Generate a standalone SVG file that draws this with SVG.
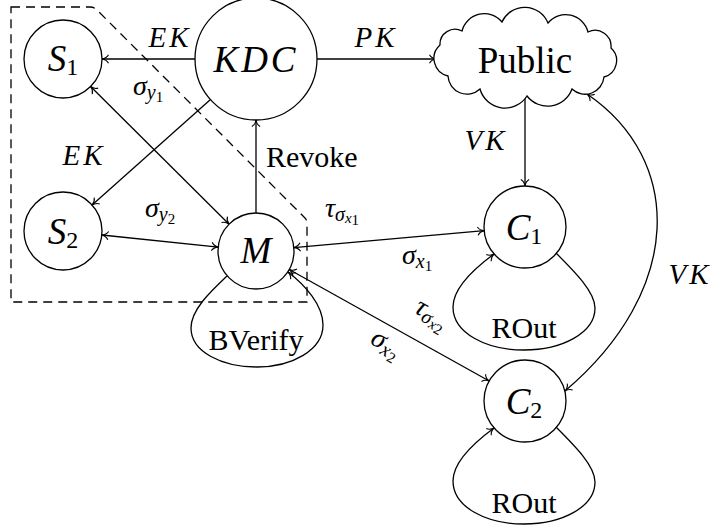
<svg xmlns="http://www.w3.org/2000/svg" width="718" height="529" viewBox="0 0 718 529" font-family="Liberation Serif, Times New Roman, serif">
<defs>
<marker id="a" viewBox="-8 -5 9 10" refX="0" refY="0" markerWidth="9" markerHeight="10" markerUnits="userSpaceOnUse" orient="auto-start-reverse">
<path d="M-6.5,-4.2 C-5,-1.5 -2,-0.3 0,0 C-2,0.3 -5,1.5 -6.5,4.2" fill="none" stroke="#000" stroke-width="1.1"/>
</marker>
</defs>
<rect width="718" height="529" fill="#fff"/>

<g id="boundary">
<path fill="none" stroke="#000" stroke-width="1.3" stroke-dasharray="9 6" d="M11,7 L90,7 Q94,7 97,10 L305,218 Q307,220 307,224 L307,302 L11,302 Z"/>
</g>

<g id="connectors">
<g fill="none" stroke="#000" stroke-width="1.3">
<path d="M195,59 L102,59" marker-end="url(#a)"/>
<path d="M317,59 L436,59" marker-end="url(#a)"/>
<path d="M210.5,99.6 L92.1,205.1" marker-end="url(#a)"/>
<path d="M90.6,86.5 L229.1,224.2" marker-start="url(#a)" marker-end="url(#a)"/>
<path d="M256,213 L256,120" marker-end="url(#a)"/>
<path d="M101.8,235 L218.2,247.1" marker-start="url(#a)" marker-end="url(#a)"/>
<path d="M293.8,247.6 L484.2,230.6" marker-start="url(#a)" marker-end="url(#a)"/>
<path d="M289.2,269.5 L489.2,381" marker-start="url(#a)" marker-end="url(#a)"/>
<path d="M525,96 L525,186" marker-end="url(#a)"/>
<path d="M587,94 C684,160 684,290 565,391" marker-start="url(#a)" marker-end="url(#a)"/>
<path d="M227,276 C210,292 191,310 191,328 C191,352 222,367 257,367 C292,367 323,350 323,325 C323,305 305,285 288,272" marker-end="url(#a)"/>
<path d="M556,253 C575,272 595,292 595,308 C595,333 562,350 524,350 C486,350 453,333 453,307 C453,287 475,268 494,254" marker-end="url(#a)"/>
<path d="M556,427 C575,446 595,466 595,482 C595,507 562,524 524,524 C486,524 453,507 453,481 C453,461 475,442 494,428" marker-end="url(#a)"/>
</g>
<g fill="#000" font-family="Liberation Serif, Times New Roman, serif">
<g font-size="29" font-style="italic" text-anchor="middle" letter-spacing="3">
<text x="170" y="47">EK</text>
<text x="376" y="47">PK</text>
<text x="84" y="165">EK</text>
<text x="486" y="150">VK</text>
<text x="690" y="284">VK</text>
</g>
<g font-size="30">
<text x="266" y="167">Revoke</text>
<text x="256" y="350" text-anchor="middle">BVerify</text>
<text x="524" y="338" text-anchor="middle">ROut</text>
<text x="524" y="513" text-anchor="middle">ROut</text>
</g>
<g font-size="28" font-style="italic">
<text x="133" y="95">&#963;<tspan font-size="20" dy="4">y</tspan><tspan font-size="15" font-style="normal" dy="3">1</tspan></text>
<text x="145" y="217">&#963;<tspan font-size="20" dy="4">y</tspan><tspan font-size="15" font-style="normal" dy="3">2</tspan></text>
<text x="325" y="217">&#964;<tspan font-size="20" dy="4">&#963;</tspan><tspan font-size="15" dy="2">x</tspan><tspan font-size="15" font-style="normal" dy="2">1</tspan></text>
<text x="402" y="264">&#963;<tspan font-size="20" dy="4">x</tspan><tspan font-size="15" font-style="normal" dy="3">1</tspan></text>
<text transform="translate(413,312) rotate(29.1)">&#964;<tspan font-size="20" dy="4">&#963;</tspan><tspan font-size="15" dy="2">x</tspan><tspan font-size="15" font-style="normal" dy="2">2</tspan></text>
<text transform="translate(369,343) rotate(29.1)">&#963;<tspan font-size="20" dy="4">x</tspan><tspan font-size="15" font-style="normal" dy="3">2</tspan></text>
</g>
</g>
</g>

<g fill="#fff" stroke="#000" stroke-width="1.3">
<g id="S1">
<circle cx="63" cy="59" r="39"/>
<text x="63" y="71" fill="#000" stroke="none" font-size="37" text-anchor="middle"><tspan font-style="italic">S</tspan><tspan font-size="24" dy="4">1</tspan></text>
</g>
<g id="KDC">
<circle cx="256" cy="59" r="61"/>
<text x="256" y="72" fill="#000" stroke="none" font-size="37" text-anchor="middle" font-style="italic" letter-spacing="3">KDC</text>
</g>
<g id="Public">
<path d="M527,96 A26,26 0 0 1 480,89 A19,19 0 0 1 448,76 A18,18 0 0 1 440,45 A15,15 0 0 1 462,31 A23,23 0 0 1 502,22 A25,25 0 0 1 548,23 A23,23 0 0 1 588,32 A16,16 0 0 1 611,48 A17,17 0 0 1 604,77 A19,19 0 0 1 572,89 A26,26 0 0 1 527,96 Z"/>
<text x="525" y="73" fill="#000" stroke="none" font-size="37" text-anchor="middle">Public</text>
</g>
<g id="S2">
<circle cx="63" cy="231" r="39"/>
<text x="63" y="244" fill="#000" stroke="none" font-size="37" text-anchor="middle"><tspan font-style="italic">S</tspan><tspan font-size="24" dy="4">2</tspan></text>
</g>
<g id="M">
<circle cx="256" cy="251" r="38"/>
<text x="256" y="263" fill="#000" stroke="none" font-size="37" text-anchor="middle" font-style="italic">M</text>
</g>
<g id="C1">
<circle cx="525" cy="227" r="41"/>
<text x="524" y="240" fill="#000" stroke="none" font-size="37" text-anchor="middle"><tspan font-style="italic">C</tspan><tspan font-size="24" dy="4">1</tspan></text>
</g>
<g id="C2">
<circle cx="525" cy="401" r="41"/>
<text x="524" y="414" fill="#000" stroke="none" font-size="37" text-anchor="middle"><tspan font-style="italic">C</tspan><tspan font-size="24" dy="4">2</tspan></text>
</g>
</g>
</svg>
